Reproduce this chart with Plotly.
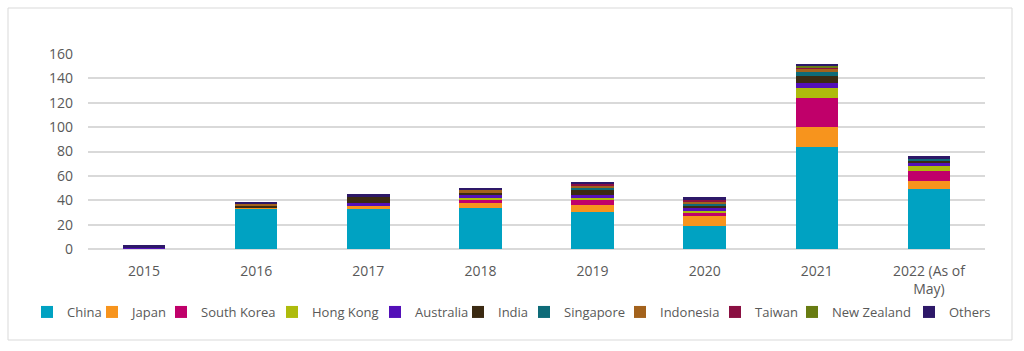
import plotly.graph_objects as go

years = ["2015", "2016", "2017", "2018", "2019", "2020", "2021", "2022 (As of<br>May)"]

china = [0, 33, 33, 34, 30, 19, 84, 49]
japan = [0, 1, 2, 4, 6, 8, 16, 7]
south_korea = [0, 0, 0, 2, 5, 3, 24, 8]
hong_kong = [0, 0, 0, 2, 1, 1, 8, 4]
australia = [1, 0, 3, 3, 2, 3, 4, 3]
india = [0, 2, 5, 1, 5, 2, 6, 1]
singapore = [0, 0, 0, 0, 1, 1, 3, 2]
indonesia = [0, 1, 0, 3, 2, 2, 3, 0]
taiwan = [0, 0, 0, 0, 1, 1, 1, 0]
new_zealand = [0, 0, 0, 0, 0, 0, 1, 0]
others = [2, 1, 2, 1, 2, 3, 2, 2]

series = [
    ("China", china, "#00A2C2"),
    ("Japan", japan, "#F7941D"),
    ("South Korea", south_korea, "#C0006A"),
    ("Hong Kong", hong_kong, "#AEBB0C"),
    ("Australia", australia, "#5310B8"),
    ("India", india, "#3B2A12"),
    ("Singapore", singapore, "#0E6B78"),
    ("Indonesia", indonesia, "#A3621C"),
    ("Taiwan", taiwan, "#8A1042"),
    ("New Zealand", new_zealand, "#687C12"),
    ("Others", others, "#2D1868"),
]

# pixel x where each legend label's text starts
legend_text_x = [67, 132, 201, 312, 415, 498, 564, 660, 755, 832, 949]

L, R, T, B = 88, 39, 54, 102
W, H = 1024, 351
PW = W - L - R
PH = H - T - B

fig = go.Figure()
layout_legends = {}
for i, (name, vals, color) in enumerate(series):
    key = "legend" if i == 0 else f"legend{i + 1}"
    fig.add_trace(go.Bar(x=years, y=vals, name=name, legend=key, showlegend=True,
                         marker=dict(color=color, line=dict(width=0))))
    layout_legends[key] = dict(
        orientation="h",
        x=(legend_text_x[i] - 40 - L) / PW, xanchor="left",
        y=(PH + T - 312) / PH, yanchor="middle",
        font=dict(size=13, color="#595959"),
        bgcolor="rgba(0,0,0,0)", borderwidth=0,
        itemwidth=30, visible=True,
    )

fig.update_layout(
    showlegend=True,
    barmode="stack",
    bargap=0.62,
    width=W, height=H,
    margin=dict(l=L, r=R, t=T, b=B),
    paper_bgcolor="white", plot_bgcolor="white",
    font=dict(family="Open Sans, Noto Sans, sans-serif", size=14, color="#595959"),
    xaxis=dict(showgrid=False, showline=False, ticks="", tickfont=dict(size=14),
               ticklabelstandoff=12),
    yaxis=dict(range=[0, 160], dtick=20, showgrid=True, gridcolor="#D9D9D9", gridwidth=1.5,
               zeroline=True, zerolinecolor="#D9D9D9", zerolinewidth=1.5,
               tickfont=dict(size=14), ticks="", ticklabelstandoff=14),
    shapes=[dict(type="rect", xref="paper", yref="paper",
                 x0=(8 - L) / PW, x1=(1012 - L) / PW,
                 y0=(PH + T - 340) / PH, y1=(PH + T - 8) / PH,
                 line=dict(color="#D9D9D9", width=1), layer="below")],
    **layout_legends,
)

fig.write_html("out.html")
